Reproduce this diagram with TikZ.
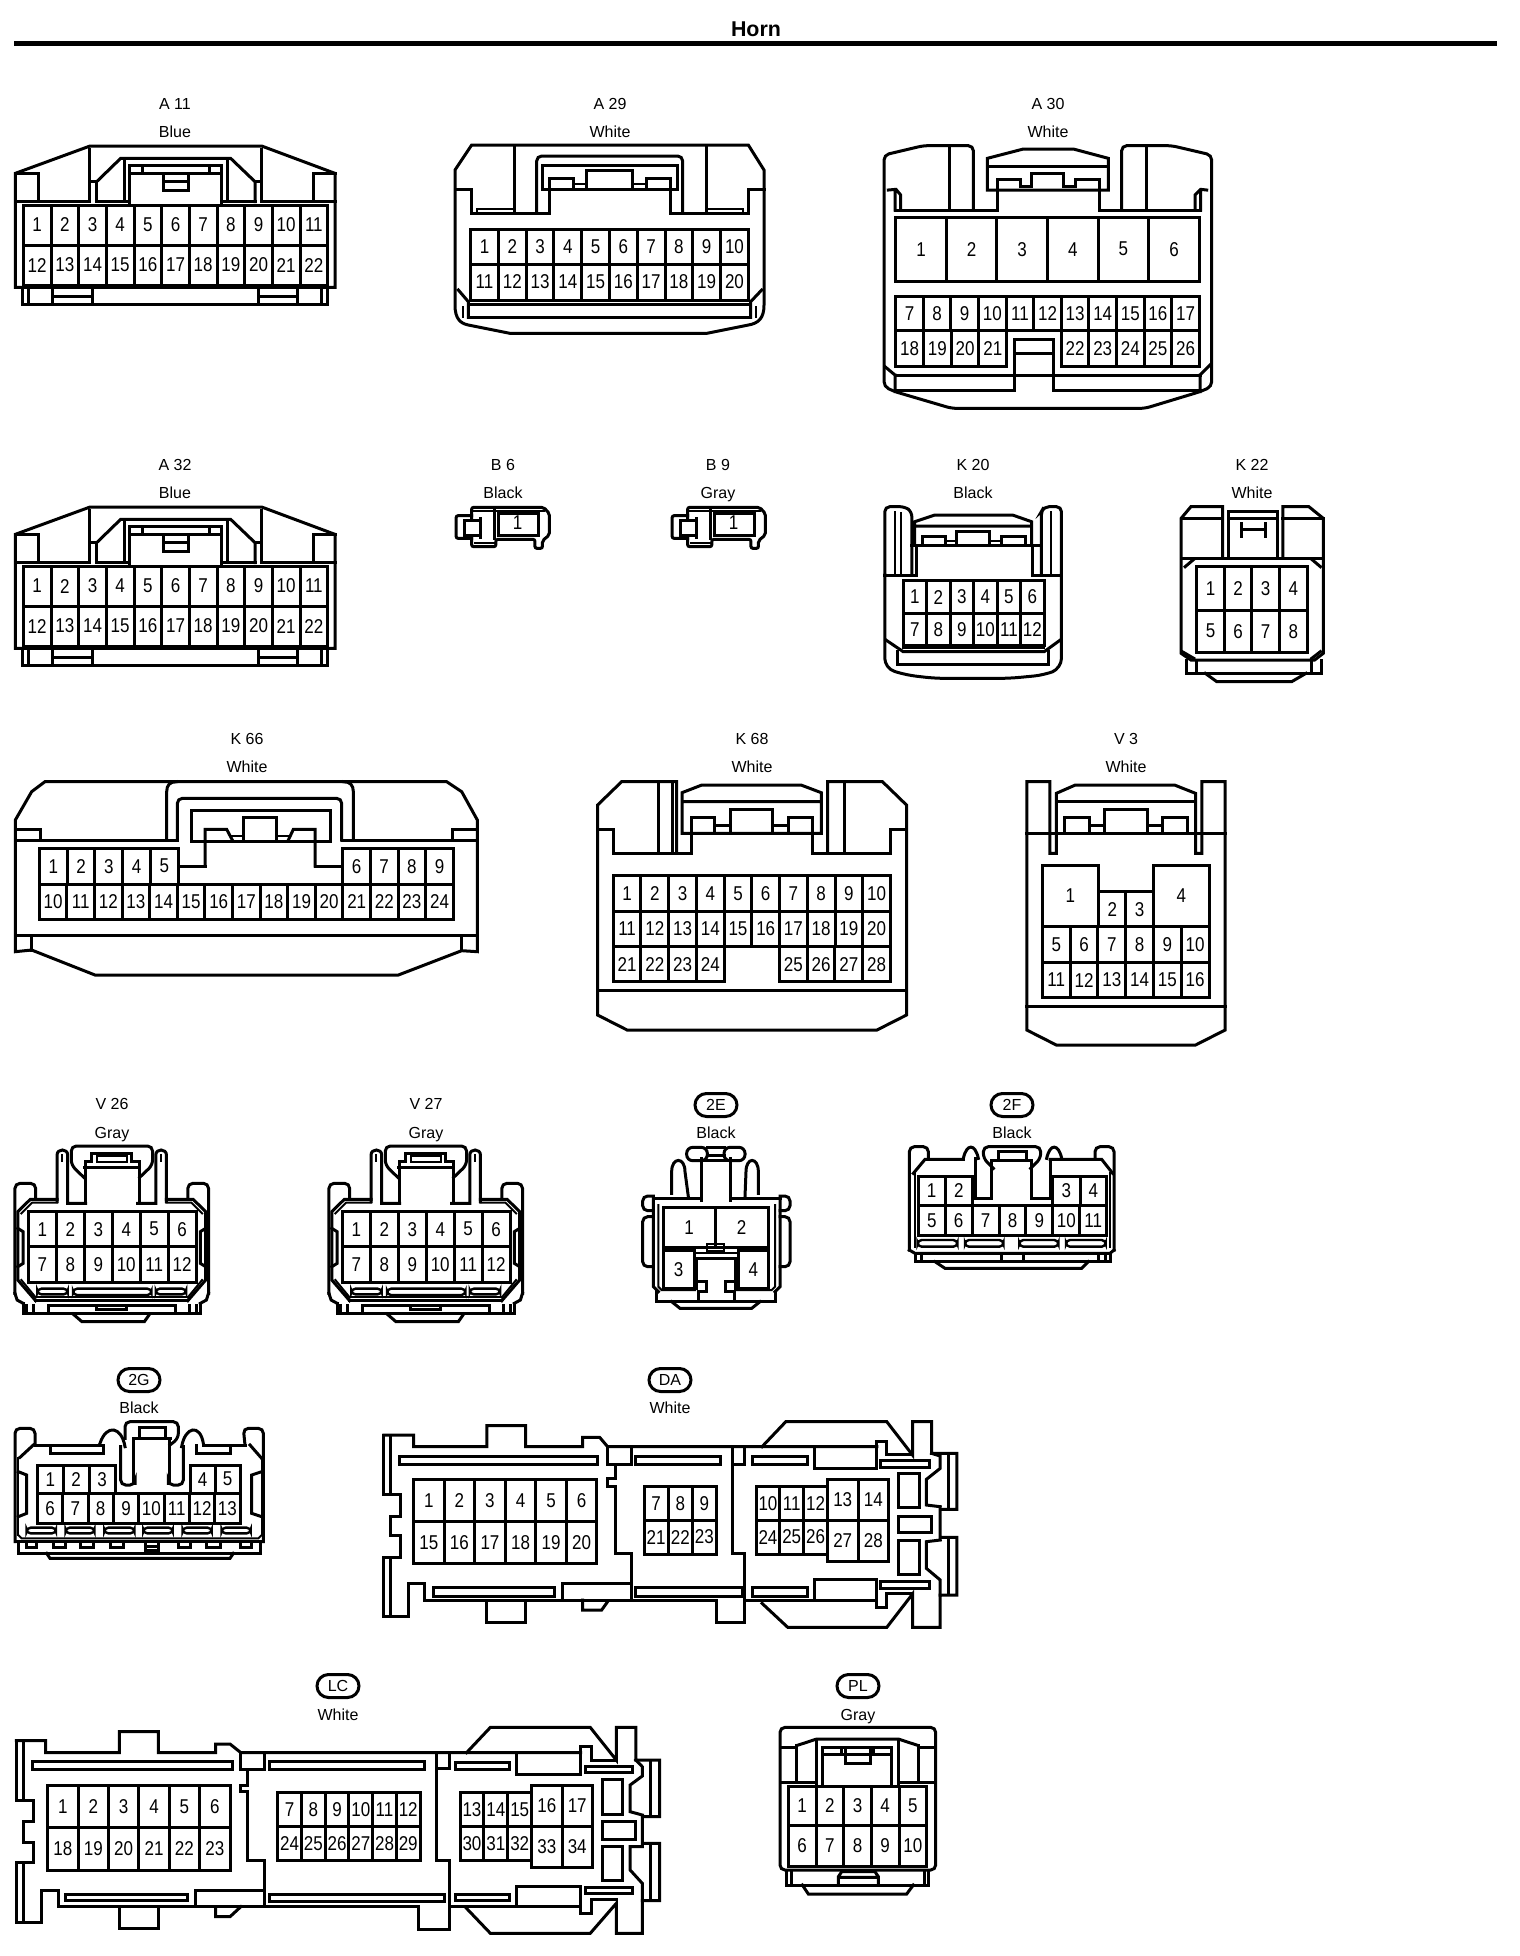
\documentclass[tikz,border=0pt]{standalone}
\usepackage{fontspec}
\setmainfont{Liberation Sans}
\newfontfamily\pinfont[FakeStretch=0.85]{Liberation Sans}
\usetikzlibrary{shapes.misc}
\newcounter{nn}
\tikzset{
 ln/.style={line width=1.5pt,line join=miter,line cap=rect},
 tn/.style={line width=1pt,line join=miter,line cap=rect},
 sl/.style={line width=1.2pt,rounded corners=2pt},
 rc/.style={rounded corners=2.5pt},
 pinno/.style={inner sep=0pt,font=\pinfont\fontsize{10}{10}\selectfont},
 captext/.style={inner sep=0pt,text height=5.8pt,text depth=0pt,font=\fontsize{8}{8}\selectfont},
 ovalbox/.style={draw,rounded rectangle,line width=1.5pt,inner sep=0pt,minimum width=21pt,minimum height=11.5pt,font=\fontsize{8}{8}\selectfont},
 zm/.style n args={3}{shift={(#1,#2)},x=#3pt,y=-0.16667pt},
}
\newcommand\numnode[3]{\stepcounter{nn}\node[pinno] (n\thenn) at (#1,#2) {#3};}
\newcommand\cellbox[5]{\draw[ln] (#1,#3) rectangle (#2,#4);\pgfmathsetmacro\cxm{(#1+#2)/2}\pgfmathsetmacro\cym{(#3+#4)/2}\numnode{\cxm}{\cym}{#5}}
\newcommand\cellrow[6]{\pgfmathsetmacro\cwd{(#2-#1)/#5}\foreach \ii in {1,...,#5}{\pgfmathsetmacro\xaa{#1+(\ii-1)*\cwd}\pgfmathsetmacro\xbb{#1+\ii*\cwd}\pgfmathtruncatemacro\nmm{#6+\ii-1}\cellbox{\xaa}{\xbb}{#3}{#4}{\nmm}}}
\newcommand\conAeleven{%
 \draw[ln] (46,520)--(270,438)--(785,438)--(1005,520)--(1005,862)--(46,862)--cycle;
 \draw[ln] (68,862)--(68,912)--(983,912)--(983,862);
 \foreach \q in {85,158,278,775,892,965}{\draw[ln] (\q,862)--(\q,912);}
 \draw[ln] (158,890)--(278,890) (775,890)--(892,890);
 \cellrow{70}{983}{615}{735}{11}{1}
 \cellrow{70}{983}{735}{855}{11}{12}
 \draw[ln] (46,605)--(268,605) (268,448)--(268,605) (290,545)--(290,605) (268,545)--(290,545);
 \draw[ln] (290,545)--(362,475)--(692,475)--(765,545)--(765,605);
 \draw[ln] (785,448)--(785,605) (765,545)--(785,545);
 \draw[ln] (290,605)--(387,605) (663,605)--(765,605) (785,605)--(1005,605);
 \draw[ln] (372,475)--(372,605) (683,475)--(683,605);
 \draw[ln] (387,615)--(387,495)--(663,495)--(663,615);
 \draw[ln] (387,520)--(663,520) (427,495)--(427,520) (628,495)--(628,520);
 \draw[ln] (490,520)--(490,570)--(565,570)--(565,520) (490,545)--(565,545);
 \draw[ln] (46,520)--(115,520)--(115,605) (1005,520)--(940,520)--(940,605);
}
\newcommand\vside{%
 \draw[ln] (160,335)--(160,195) .. controls (160,175) and (190,175) .. (190,195)--(190,340)--(240,340);
 \draw[tn] (175,195)--(175,212);
 \draw[ln,rc] (42,610)--(42,280)--(100,280)--(100,325);
 \draw[ln] (160,328)--(85,328)--(50,365)--(50,570)--(100,632);
 \draw[tn] (160,338)--(90,338)--(60,370);
 \draw[tn] (60,570)--(100,622);
 \draw[ln] (50,415)--(65,425)--(65,520)--(50,530);
 \draw[ln] (42,610)--(48,630)--(65,640);
 \draw[ln] (65,640)--(65,670);
 \draw[ln] (75,645)--(75,668) (95,645)--(95,668) (135,645)--(135,668);
}
\newcommand\conVtwo{%
 \cellrow{80}{550}{365}{470}{6}{1}
 \cellrow{80}{550}{470}{578}{6}{7}
 \vside
 \begin{scope}[shift={(627,0)},xscale=-1]\vside\end{scope}
 \draw[ln] (240,340)--(240,215)--(258,215)--(258,190)--(370,190)--(370,215)--(390,215)--(390,340)--(387,340);
 \draw[ln,rc] (235,262)--(200,225)--(200,168)--(428,168)--(428,225)--(392,262);
 \draw[ln] (238,232)--(390,232);
 \draw[tn] (272,197)--(355,197)--(355,215)--(272,215)--cycle;
 \draw[sl] (105,596) rectangle (190,613);
 \draw[sl] (205,596) rectangle (425,615);
 \draw[sl] (437,596) rectangle (522,613);
 \draw[tn] (100,622)--(527,622);
 \draw[ln] (100,632)--(527,632);
 \draw[ln] (65,670)--(562,670);
 \draw[ln] (135,645)--(492,645);
 \draw[ln] (270,645)--(270,657)--(355,657)--(355,645);
 \draw[ln] (205,672)--(230,695)--(405,695)--(420,672);
}
\newcommand\conB{%
 \draw[ln,rounded corners=1pt] (55,205)--(55,172)--(180,172)--(190,190)--(190,255)--(178,272)--(178,295)--(165,295)--(165,268)--(97,268)--(97,290)--(55,290)--(55,265);
 \draw[ln,rounded corners=1pt] (55,197)--(28,197)--(28,265)--(55,265);
 \draw[ln] (42,210)--(42,255) (42,210)--(70,210) (42,255)--(70,255) (70,205)--(70,262) (95,182)--(95,265);
 \draw[tn] (55,182)--(180,182) (60,280)--(95,280);
 \draw[ln] (102,190)--(172,190)--(172,255)--(102,255)--cycle;
 \numnode{135}{218}{1}
}
\begin{document}
\begin{tikzpicture}[x=0.5pt,y=-0.5pt]
\useasboundingbox (0,0) rectangle (1520,1956);
\fill[white] (0,0) rectangle (1520,1956);
\node[inner sep=0pt,font=\bfseries\fontsize{10.7}{10.7}\selectfont] (title) at (756,29) {Horn};
\fill (14,41) rectangle (1497,46);
% captions
\node[captext] (a11a) at (175,104) {A 11}; \node[captext] (a11b) at (175,132) {Blue};
\node[captext] (a29a) at (610,104) {A 29}; \node[captext] (a29b) at (610,132) {White};
\node[captext] (a30a) at (1048,104) {A 30}; \node[captext] (a30b) at (1048,132) {White};
\node[captext] (a32a) at (175,465) {A 32}; \node[captext] (a32b) at (175,493) {Blue};
\node[captext] (b6a) at (503,465) {B 6}; \node[captext] (b6b) at (503,493) {Black};
\node[captext] (b9a) at (718,465) {B 9}; \node[captext] (b9b) at (718,493) {Gray};
\node[captext] (k20a) at (973,465) {K 20}; \node[captext] (k20b) at (973,493) {Black};
\node[captext] (k22a) at (1252,465) {K 22}; \node[captext] (k22b) at (1252,493) {White};
\node[captext] (k66a) at (247,739) {K 66}; \node[captext] (k66b) at (247,767) {White};
\node[captext] (k68a) at (752,739) {K 68}; \node[captext] (k68b) at (752,767) {White};
\node[captext] (v3a) at (1126,739) {V 3}; \node[captext] (v3b) at (1126,767) {White};
\node[captext] (v26a) at (112,1104) {V 26}; \node[captext] (v26b) at (112,1133) {Gray};
\node[captext] (v27a) at (426,1104) {V 27}; \node[captext] (v27b) at (426,1133) {Gray};
\node[ovalbox] (e2) at (716,1105) {2E}; \node[captext] (e2b) at (716,1133) {Black};
\node[ovalbox] (f2) at (1012,1105) {2F}; \node[captext] (f2b) at (1012,1133) {Black};
\node[ovalbox] (g2) at (139,1380) {2G}; \node[captext] (g2b) at (139,1408) {Black};
\node[ovalbox] (da) at (670,1380) {DA}; \node[captext] (dab) at (670,1408) {White};
\node[ovalbox] (lc) at (338,1686) {LC}; \node[captext] (lcb) at (338,1715) {White};
\node[ovalbox] (pl) at (858,1686) {PL}; \node[captext] (plb) at (858,1715) {Gray};
% A11, A32
\begin{scope}[zm={0}{0}{0.16667}]\conAeleven\end{scope}
\begin{scope}[zm={0}{361}{0.16667}]\conAeleven\end{scope}
% A29
\begin{scope}[zm={440}{80}{0.16667}]
 \draw[ln] (95,195)--(925,195)--(972,270)--(972,675) .. controls (972,715) and (955,730) .. (925,735)--(800,760)--(210,760)--(85,735) .. controls (60,730) and (45,715) .. (45,675)--(45,270)--cycle;
 \draw[ln] (45,328)--(95,328)--(95,400)--(328,400)--(328,295);
 \draw[ln] (972,328)--(925,328)--(925,400)--(692,400)--(692,295);
 \draw[ln] (222,195)--(222,400) (800,195)--(800,400);
 \draw[ln,rc] (290,400)--(290,228)--(728,228)--(728,400);
 \draw[ln] (307,255)--(712,255)--(712,328)--(307,328)--cycle;
 \draw[ln] (328,295)--(400,295)--(400,322) (618,322)--(618,295)--(692,295);
 \draw[ln] (440,322)--(440,272)--(577,272)--(577,322);
 \draw[tn] (400,312)--(440,312) (577,312)--(618,312);
 \draw[tn] (110,400)--(110,388)--(218,388) (805,388)--(908,388)--(908,400);
 \cellrow{92}{925}{447}{552}{10}{1}
 \cellrow{92}{925}{552}{660}{10}{11}
 \draw[ln] (55,630)--(85,665)--(85,712) (965,630)--(932,665)--(932,712);
 \draw[ln] (85,672)--(932,672) (85,712)--(932,712);
 \draw[tn] (70,680)--(70,712) (947,680)--(947,712);
\end{scope}
% A30
\begin{scope}[zm={860}{80}{0.16667}]
 \draw[ln,rc] (340,390)--(340,197)--(190,197)--(72,225)--(72,920)--(105,935)--(275,985)--(855,985)--(1020,935)--(1055,920)--(1055,225)--(935,197)--(785,197)--(785,390);
 \draw[ln] (268,197)--(268,390) (858,197)--(858,390);
 \draw[ln] (382,235)--(490,207)--(640,207)--(745,235)--(745,330)--(382,330)--cycle;
 \draw[ln] (382,258)--(745,258);
 \draw[ln] (412,390)--(412,298)--(482,298)--(482,320) (718,390)--(718,298)--(645,298)--(645,320);
 \draw[ln] (515,320)--(515,280)--(610,280)--(610,320);
 \draw[ln] (482,320)--(515,320) (610,320)--(645,320);
 \draw[ln] (105,390)--(412,390) (718,390)--(1020,390);
 \draw[ln] (85,330)--(108,328)--(122,345)--(122,390) (105,330)--(105,390);
 \draw[ln] (1040,330)--(1022,328)--(1005,345)--(1005,390) (1022,330)--(1022,390);
 \cellrow{107}{1018}{412}{603}{6}{1}
 \cellrow{107}{1018}{648}{752}{11}{7}
 \cellrow{107}{440}{752}{860}{4}{18}
 \cellrow{604}{1018}{752}{860}{5}{22}
 \draw[ln] (462,932)--(462,778)--(580,778)--(580,932) (462,820)--(580,820);
 \draw[ln] (105,885)--(1020,885) (105,932)--(462,932) (580,932)--(1020,932);
 \draw[ln] (105,885)--(105,935) (1020,885)--(1020,935) (75,860)--(105,885) (1050,855)--(1020,885);
\end{scope}
% B6 B9
\begin{scope}[zm={440}{450}{0.2877}]\conB\end{scope}
\begin{scope}[zm={656}{450}{0.2877}]\conB\end{scope}
% K20, K22
\begin{scope}[zm={440}{450}{0.2877}]
 \draw[ln,rc] (773,375)--(773,170)--(808,170)--(820,185)--(820,375);
 \draw[tn] (790,185)--(790,370) (802,190)--(802,370);
 \draw[ln,rc] (1080,375)--(1080,170)--(1050,170)--(1045,185)--(1045,375);
 \draw[tn] (1062,185)--(1062,370);
 \draw[ln] (773,375)--(828,375)--(828,285)--(1030,285)--(1030,375)--(1080,375);
 \draw[ln] (820,285)--(828,285) (1030,285)--(1045,285);
 \draw[ln] (825,285)--(825,215)--(860,195)--(995,195)--(1028,215)--(1028,285) (825,228)--(1028,228);
 \draw[ln] (838,280)--(838,258)--(878,258)--(878,280) (898,280)--(898,245)--(955,245)--(955,280) (975,280)--(975,258)--(1018,258)--(1018,280);
 \draw[tn] (878,272)--(898,272) (955,272)--(975,272);
 \cellrow{805}{1050}{392}{490}{6}{1}
 \cellrow{805}{1050}{490}{585}{6}{7}
 \draw[ln] (775,570)--(805,605)--(1050,605)--(1078,570);
 \draw[tn] (805,595)--(1050,595);
 \draw[ln] (795,605)--(795,642)--(1058,642)--(1058,605);
 \draw[ln,rounded corners=5pt] (773,375)--(773,655)--(810,675)--(860,685)--(990,685)--(1050,675)--(1080,655)--(1080,375);
 % K22
 \draw[ln] (1360,325)--(1360,170)--(1305,170)--(1288,205)--(1288,610)--(1305,630)--(1520,630)--(1535,610)--(1535,205)--(1510,170)--(1465,170)--(1465,325);
 \draw[ln] (1288,205)--(1360,205) (1465,205)--(1535,205);
 \draw[ln] (1370,325)--(1370,185)--(1455,185)--(1455,325) (1370,205)--(1455,205);
 \draw[ln] (1393,220)--(1393,258) (1435,220)--(1435,258) (1393,238)--(1435,238);
 \draw[ln] (1288,325)--(1535,325);
 \draw[ln] (1295,350)--(1310,328) (1515,328)--(1530,350) (1290,605)--(1310,625) (1530,605)--(1515,625);
 \cellrow{1315}{1507}{350}{480}{4}{1}
 \cellrow{1315}{1507}{480}{607}{4}{5}
 \draw[ln] (1298,630)--(1298,670)--(1532,670)--(1532,630) (1315,630)--(1315,670) (1515,630)--(1515,670);
 \draw[ln] (1330,670)--(1350,695)--(1480,695)--(1505,670);
\end{scope}
% K66
\begin{scope}[zm={0}{730}{0.16667}]
 \draw[ln] (46,270)--(95,185)--(135,155)--(1340,155)--(1385,185)--(1432,270)--(1432,665)--(1385,662)--(1195,735)--(285,735)--(95,660)--(46,665)--cycle;
 \draw[ln] (46,615)--(1432,615) (95,615)--(95,660) (1385,615)--(1385,662);
 \draw[ln] (46,330)--(532,330) (1028,330)--(1432,330);
 \draw[ln] (500,330)--(500,185) .. controls (500,165) and (510,155) .. (530,155);
 \draw[ln] (1060,330)--(1060,185) .. controls (1060,165) and (1050,155) .. (1030,155);
 \draw[ln,rc] (532,330)--(532,205)--(1025,205)--(1025,330);
 \draw[ln] (575,240)--(990,240)--(990,335)--(575,335)--cycle;
 \draw[ln] (615,408)--(615,298)--(680,298)--(697,330);
 \draw[ln] (730,335)--(730,263)--(828,263)--(828,335);
 \draw[ln] (865,330)--(880,298)--(945,298)--(945,408);
 \draw[tn] (697,318)--(730,318) (828,318)--(865,318);
 \draw[ln] (535,408)--(615,408) (945,408)--(1025,408);
 \draw[ln] (46,298)--(120,298)--(120,330) (1432,298)--(1358,298)--(1358,330);
 \cellrow{118}{535}{355}{462}{5}{1}
 \cellrow{1028}{1360}{355}{462}{4}{6}
 \cellrow{118}{1360}{462}{568}{15}{10}
\end{scope}
% K68, V3
\begin{scope}[zm={590}{730}{0.2110}]
 \draw[ln] (563,370)--(563,155)--(693,155)--(750,225)--(750,855)--(680,900)--(88,900)--(18,855)--(18,225)--(75,155)--(205,155)--(205,370);
 \draw[ln] (162,155)--(162,370) (195,155)--(195,370) (603,155)--(603,370);
 \draw[ln] (18,298)--(55,298)--(55,370)--(240,370) (750,298)--(713,298)--(713,370)--(527,370);
 \draw[ln] (218,188)--(265,165)--(500,165)--(548,188)--(548,310)--(218,310)--cycle (218,215)--(548,215);
 \draw[ln] (240,370)--(240,262)--(295,262)--(295,305) (527,370)--(527,262)--(470,262)--(470,305);
 \draw[ln] (333,310)--(333,237)--(432,237)--(432,310);
 \draw[ln] (295,285)--(333,285) (432,285)--(470,285);
 \cellrow{55}{712}{437}{543}{10}{1}
 \cellrow{55}{712}{543}{650}{10}{11}
 \cellrow{55}{318}{650}{755}{4}{21}
 \cellrow{449}{712}{650}{755}{4}{25}
 \draw[ln] (18,780)--(750,780);
 % V3
 \draw[ln] (1035,155)--(1090,155)--(1090,370)--(1105,370)--(1105,190)--(1150,165)--(1385,165)--(1435,190)--(1435,370)--(1450,370)--(1450,155)--(1505,155)--(1505,900)--(1435,945)--(1105,945)--(1035,900)--cycle;
 \draw[ln] (1105,215)--(1435,215) (1035,310)--(1505,310);
 \draw[ln] (1125,310)--(1125,262)--(1183,262)--(1183,310) (1415,310)--(1415,262)--(1357,262)--(1357,310);
 \draw[ln] (1220,310)--(1220,237)--(1320,237)--(1320,310);
 \draw[ln] (1183,285)--(1220,285) (1320,285)--(1357,285);
 \cellbox{1072}{1205}{405}{590}{1}
 \cellbox{1335}{1467}{405}{590}{4}
 \cellrow{1205}{1335}{485}{590}{2}{2}
 \cellrow{1072}{1467}{590}{697}{6}{5}
 \cellrow{1072}{1467}{697}{803}{6}{11}
 \draw[ln] (1035,828)--(1505,828);
\end{scope}
% V26, V27
\begin{scope}[zm={0}{1090}{0.1782}]\conVtwo\end{scope}
\begin{scope}[zm={314}{1090}{0.1782}]\conVtwo\end{scope}
% 2E, 2F
\begin{scope}[zm={620}{1090}{0.16667}]
 \cellbox{130}{285}{352}{472}{1}
 \cellbox{285}{445}{352}{472}{2}
 \cellbox{130}{222}{480}{595}{3}
 \cellbox{355}{445}{480}{595}{4}
 \draw[ln,rounded corners=3pt] (200,172) rectangle (262,212);
 \draw[ln,rounded corners=3pt] (312,172) rectangle (375,212);
 \draw[ln] (262,172)--(312,172) (262,195)--(312,195) (245,212)--(330,212);
 \draw[ln] (245,205)--(245,330) (330,205)--(330,330);
 \draw[ln] (155,310)--(155,245) .. controls (155,200) and (195,200) .. (195,245)--(205,320);
 \draw[ln] (375,320)--(378,245) .. controls (378,200) and (415,200) .. (415,245)--(415,310);
 \draw[ln] (100,325)--(240,325) (335,325)--(480,325);
 \draw[ln,rc] (100,318)--(68,318)--(68,362)--(100,362);
 \draw[ln,rc] (480,318)--(510,318)--(510,362)--(480,362);
 \draw[ln,rc] (100,380)--(68,380)--(68,530)--(98,530);
 \draw[ln,rc] (480,380)--(510,380)--(510,530)--(480,530);
 \draw[ln] (100,325)--(100,590)--(115,605) (480,325)--(480,590)--(465,605);
 \draw[tn] (115,345)--(115,590)--(125,600)--(225,600) (465,345)--(465,590)--(455,600)--(350,600);
 \draw[ln] (110,605)--(110,635)--(465,635)--(465,605);
 \draw[ln] (155,635)--(180,655)--(395,655)--(420,635);
 \draw[ln] (230,595)--(230,505)--(345,505)--(345,595);
 \draw[tn] (222,490)--(352,490);
 \draw[tn] (260,462)--(312,462)--(312,482)--(260,482)--cycle;
 \draw[ln] (235,575)--(258,575)--(258,605)--(235,605) (340,575)--(315,575)--(315,605)--(340,605);
 \draw[ln] (235,605)--(235,635) (342,605)--(342,635);
 % 2F
 \cellbox{895}{975}{258}{345}{1}
 \cellbox{975}{1058}{258}{345}{2}
 \cellbox{1298}{1380}{258}{345}{3}
 \cellbox{1380}{1460}{258}{345}{4}
 \cellrow{895}{1460}{345}{437}{7}{5}
 \draw[ln,rc] (868,480)--(868,170)--(925,170)--(925,208);
 \draw[ln,rc] (1425,208)--(1425,170)--(1482,170)--(1482,480);
 \draw[ln] (880,250)--(915,208)--(1030,208);
 \draw[ln] (1290,208)--(1445,208)--(1478,250);
 \draw[ln] (1030,205) .. controls (1040,160) and (1065,160) .. (1075,205);
 \draw[ln] (1280,205) .. controls (1290,160) and (1315,160) .. (1325,205);
 \draw[ln,rc] (1120,235)--(1090,205)--(1090,170)--(1262,170)--(1262,205)--(1232,235);
 \draw[ln] (1135,183)--(1218,183)--(1218,210)--(1135,210)--cycle (1115,210)--(1235,210);
 \draw[ln] (1065,205)--(1065,325)--(1115,325)--(1115,210);
 \draw[ln] (1235,210)--(1235,325)--(1290,325)--(1290,210);
 \draw[tn] (885,250)--(885,470) (1470,250)--(1470,470);
 \draw[sl] (893,450) rectangle (1012,470);
 \draw[sl] (1035,450) rectangle (1150,470);
 \draw[sl] (1198,450) rectangle (1315,470);
 \draw[sl] (1338,450) rectangle (1457,470);
 \draw[ln] (868,480)--(885,490)--(1470,490)--(1482,480);
 \draw[ln] (885,490)--(885,515)--(1470,515)--(1470,490);
 \draw[ln] (945,515)--(975,535)--(1385,535)--(1405,515);
 \draw[ln] (905,490)--(905,515) (1145,490)--(1145,515) (1210,490)--(1210,515) (1435,490)--(1435,515) (1455,490)--(1455,515);
\end{scope}
% 2G
\begin{scope}[zm={0}{1370}{0.16667}]
 \cellrow{112}{345}{285}{370}{3}{1}
 \cellrow{570}{720}{285}{370}{2}{4}
 \cellrow{112}{720}{370}{460}{8}{6}
 \draw[ln,rc] (45,515)--(45,175)--(105,175)--(105,225);
 \draw[ln,rc] (735,225)--(730,175)--(790,175)--(790,515);
 \draw[ln] (105,225)--(300,225) (610,225)--(735,225);
 \draw[ln] (300,220) .. controls (320,160) and (365,170) .. (375,230);
 \draw[ln] (545,230) .. controls (555,170) and (600,160) .. (610,220);
 \draw[ln] (150,225)--(150,250)--(310,250)--(310,225) (590,225)--(590,250)--(690,250)--(690,225);
 \draw[ln] (60,262)--(100,225) (750,225)--(785,265);
 \draw[tn] (55,265)--(55,495) (785,265)--(785,495);
 \draw[ln] (55,305)--(80,315)--(80,430)--(55,440) (785,305)--(755,315)--(755,430)--(785,440);
 \draw[ln,rc] (375,205)--(375,155)--(535,155)--(535,205)--(510,225);
 \draw[ln] (418,172)--(495,172)--(495,205)--(418,205)--cycle (400,205)--(510,205);
 \draw[ln] (400,205)--(400,340) (508,205)--(508,340);
 \draw[ln,rc] (362,230)--(362,345)--(405,345)--(405,340);
 \draw[ln,rc] (505,340)--(505,345)--(550,345)--(550,230);
 \draw[sl] (80,473) rectangle (168,490);
 \draw[sl] (197,473) rectangle (283,490);
 \draw[sl] (313,473) rectangle (403,490);
 \draw[sl] (430,473) rectangle (518,490);
 \draw[sl] (548,473) rectangle (635,490);
 \draw[sl] (665,473) rectangle (752,490);
 \draw[tn] (55,495)--(65,505)--(775,505)--(785,495);
 \draw[ln] (45,515)--(790,515);
 \draw[ln] (55,515)--(55,550)--(780,550)--(780,515);
 \foreach \qa/\qb in {80/110,160/195,240/280,330/370,535/570,620/660,720/755}{\draw[ln] (\qa,515)--(\qa,532)--(\qb,532)--(\qb,515);}
 \draw[ln] (435,515)--(435,540)--(475,540)--(475,515) (435,528)--(475,528);
 \draw[ln] (140,550)--(150,565)--(690,565)--(700,550);
\end{scope}
% DA
\begin{scope}[zm={370}{1380}{0.1980}]
 \cellrow{110}{573}{297}{425}{6}{1}
 \cellrow{110}{573}{425}{550}{6}{15}
 \cellrow{692}{875}{320}{420}{3}{7}
 \cellrow{692}{875}{420}{522}{3}{21}
 \cellrow{975}{1155}{320}{420}{3}{10}
 \cellrow{975}{1155}{420}{522}{3}{24}
 \cellrow{1155}{1310}{297}{420}{2}{13}
 \cellrow{1155}{1310}{420}{545}{2}{27}
 \draw[ln] (35,165)--(110,165)--(110,200)--(295,200)--(295,137)--(393,137)--(393,200)--(537,200)--(537,172)--(580,172)--(600,200)--(1280,200);
 \draw[ln] (990,200)--(1050,125)--(1305,125)--(1370,225)--(1370,125)--(1418,125)--(1418,220)--(1482,220)--(1482,388)--(1440,388)--(1440,472)--(1482,472)--(1482,645)--(1440,645)--(1440,742)--(1370,742)--(1370,642)--(1305,742)--(1055,742)--(990,670);
 \draw[ln] (137,660)--(875,660)--(875,728)--(945,728)--(945,660)--(1280,660);
 \draw[ln] (537,660)--(537,690)--(585,690)--(600,665);
 \draw[ln] (295,660)--(295,728)--(393,728)--(393,660);
 \draw[ln] (137,660)--(137,610)--(97,610)--(97,708)--(35,708)--(35,532)--(78,532)--(78,465)--(52,465)--(52,408)--(78,408)--(78,342)--(35,342)--(35,165);
 \draw[ln] (52,165)--(52,342) (52,532)--(52,708);
 \draw[ln] (75,228) rectangle (575,252) (670,228) rectangle (885,252) (965,228) rectangle (1105,252) (1290,242) rectangle (1412,262);
 \draw[ln] (160,622) rectangle (465,648) (670,622) rectangle (940,648) (965,622) rectangle (1105,648) (1290,605) rectangle (1412,625);
 \draw[ln] (600,200)--(600,252)--(660,252)--(660,200);
 \draw[ln] (620,252)--(620,295)--(600,295)--(600,318)--(620,318)--(620,520)--(660,520)--(660,660);
 \draw[ln] (915,200)--(915,520)--(945,520)--(945,660) (915,252)--(945,252)--(945,200);
 \draw[ln] (1122,200)--(1122,265)--(1280,265)--(1280,185)--(1305,185)--(1305,222)--(1370,222);
 \draw[ln] (1122,660)--(1122,598)--(1280,598)--(1280,682)--(1305,682)--(1305,640)--(1370,640);
 \draw[ln] (487,660)--(487,610)--(660,610);
 \draw[ln] (1335,280) rectangle (1388,382) (1335,408) rectangle (1418,458) (1335,480) rectangle (1388,582);
 \draw[ln] (1418,220)--(1440,228)--(1440,265)--(1405,298)--(1405,375)--(1440,380);
 \draw[ln] (1440,480)--(1405,485)--(1405,565)--(1440,600)--(1440,645);
 \draw[ln] (1460,225)--(1460,385) (1460,478)--(1460,640);
\end{scope}
% LC
\begin{scope}[zm={0}{1670}{0.2170}]
 \cellrow{110}{530}{347}{472}{6}{1}
 \cellrow{110}{530}{472}{600}{6}{18}
 \cellrow{640}{968}{367}{470}{6}{7}
 \cellrow{640}{968}{470}{572}{6}{24}
 \cellrow{1060}{1225}{367}{470}{3}{13}
 \cellrow{1060}{1225}{470}{572}{3}{30}
 \cellrow{1225}{1365}{347}{468}{2}{16}
 \cellrow{1225}{1365}{468}{592}{2}{33}
 \draw[ln] (38,212)--(105,212)--(105,248)--(275,248)--(275,185)--(365,185)--(365,248)--(497,248)--(497,222)--(530,222)--(555,248)--(1338,248);
 \draw[ln] (1075,248)--(1130,172)--(1360,172)--(1420,270)--(1420,172)--(1465,172)--(1465,270)--(1520,270)--(1520,440)--(1480,440)--(1480,520)--(1520,520)--(1520,692)--(1480,692)--(1480,790)--(1420,790)--(1420,700)--(1360,790)--(1130,790)--(1075,715);
 \draw[ln] (135,710)--(965,710)--(965,778)--(1035,778)--(1035,710)--(1338,710);
 \draw[ln] (497,710)--(497,740)--(530,740)--(555,710);
 \draw[ln] (275,710)--(275,775)--(365,775)--(365,710);
 \draw[ln] (135,710)--(135,660)--(95,660)--(95,758)--(38,758)--(38,578)--(78,578)--(78,518)--(55,518)--(55,455)--(78,455)--(78,392)--(38,392)--(38,212);
 \draw[ln] (55,212)--(55,392) (55,578)--(55,758);
 \draw[ln] (75,275) rectangle (535,297) (620,275) rectangle (978,297) (1050,277) rectangle (1175,297) (1350,290) rectangle (1458,308);
 \draw[ln] (152,672) rectangle (433,692) (620,672) rectangle (1025,695) (1050,672) rectangle (1175,692) (1350,652) rectangle (1458,670);
 \draw[ln] (555,248)--(555,297)--(610,297)--(610,248);
 \draw[ln] (570,297)--(570,345)--(555,345)--(555,365)--(570,365)--(570,570)--(610,570)--(610,710);
 \draw[ln] (1005,248)--(1005,570)--(1035,570)--(1035,710) (1005,295)--(1035,295)--(1035,248);
 \draw[ln] (1190,248)--(1190,312)--(1338,312)--(1338,230)--(1362,230)--(1362,270)--(1420,270);
 \draw[ln] (1190,710)--(1190,648)--(1338,648)--(1338,730)--(1362,730)--(1362,688)--(1420,688);
 \draw[ln] (450,710)--(450,660)--(610,660);
 \draw[ln] (1388,328) rectangle (1435,432) (1388,455) rectangle (1465,508) (1388,528) rectangle (1435,630);
 \draw[ln] (1465,270)--(1480,290)--(1480,318)--(1452,345)--(1452,425)--(1480,435);
 \draw[ln] (1480,530)--(1452,530)--(1452,600)--(1480,640)--(1480,692);
 \draw[ln] (1500,275)--(1500,435) (1500,525)--(1500,690);
\end{scope}
% PL
\begin{scope}[zm={770}{1670}{0.16667}]
 \cellrow{55}{470}{350}{465}{5}{1}
 \cellrow{55}{470}{465}{590}{5}{6}
 \draw[ln,rc] (30,600)--(30,172)--(497,172)--(497,600)--cycle;
 \draw[ln] (30,232)--(80,232) (445,232)--(497,232) (80,225)--(80,338) (445,225)--(445,338);
 \draw[ln] (85,225)--(140,207)--(385,207)--(440,225);
 \draw[ln] (30,338)--(140,338) (385,338)--(497,338);
 \draw[ln] (158,350)--(158,232)--(365,232)--(365,350) (140,207)--(140,340) (385,207)--(385,340);
 \draw[ln] (165,252)--(360,252) (215,232)--(215,252) (310,232)--(310,252);
 \draw[ln] (225,238)--(225,280)--(302,280)--(302,238);
 \draw[ln] (50,600)--(50,645)--(475,645)--(475,600) (65,600)--(65,645) (462,600)--(462,645);
 \draw[ln] (205,645)--(205,620)--(215,605)--(315,605)--(325,620)--(325,645) (205,622)--(325,622);
 \draw[ln] (97,645)--(115,672)--(410,672)--(430,645);
\end{scope}
\end{tikzpicture}
\end{document}
